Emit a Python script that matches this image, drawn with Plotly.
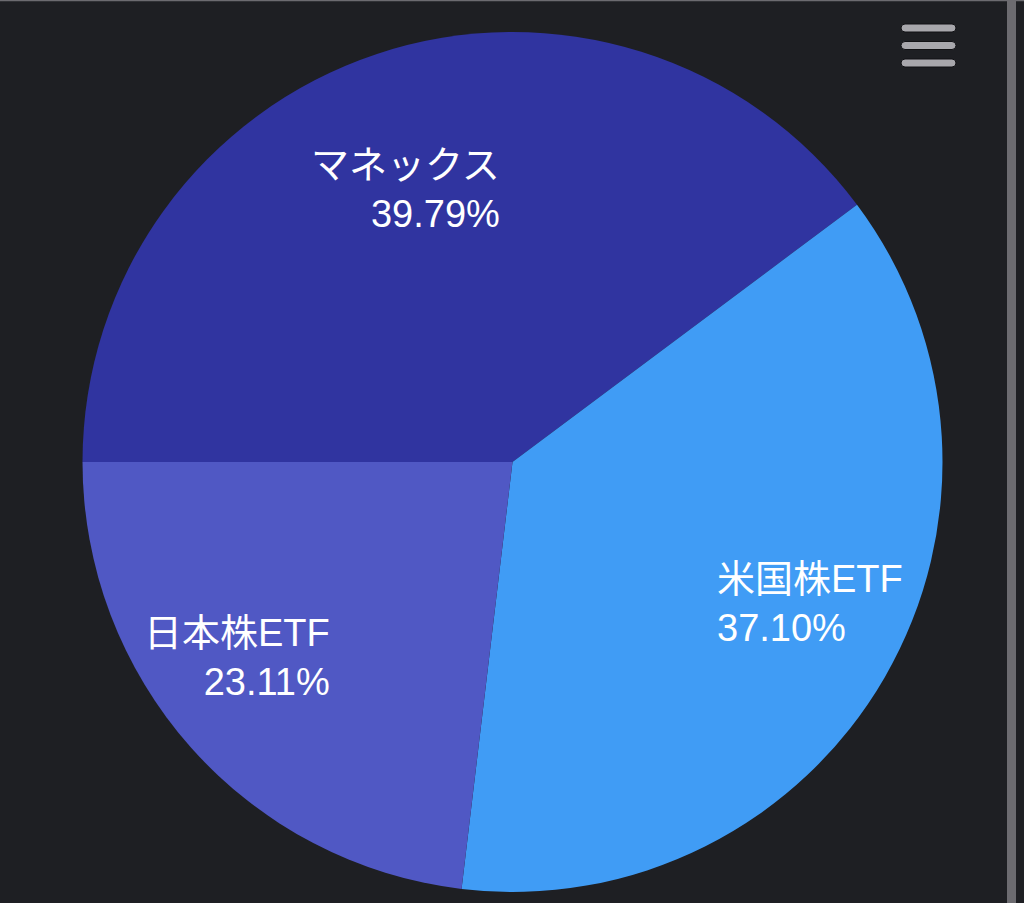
import math
import plotly.graph_objects as go

labels = ["マネックス", "米国株ETF", "日本株ETF"]
values = [39.79, 37.10, 23.11]
colors = ["#3034a0", "#409cf5", "#5058c4"]

# label styling (alignment, radial placement, angular nudge)
label_align = ["right", "left", "right"]
label_radius = [0.682, 0.767, 0.785]
label_nudge_deg = [-3.1, -4.6, 6.3]

W, H = 1024, 903
BG = "#1e1f23"

cx, cy, R = 512.5, 462, 430
START_DEG = 270          # first slice starts at 9 o'clock, clockwise

def px(x):
    return x / W

def py(y):
    return 1 - y / H

fig = go.Figure()
fig.add_trace(go.Pie(
    labels=labels,
    values=values,
    sort=False,
    direction="clockwise",
    rotation=START_DEG,
    marker=dict(colors=colors, line=dict(width=0)),
    textinfo="none",
    hoverinfo="skip",
    showlegend=False,
    domain=dict(x=[px(cx - R), px(cx + R)], y=[py(cy + R), py(cy - R)]),
))

# data labels placed around each slice's mid-angle (computed from the values)
total = sum(values)
annotations = []
acc = 0.0
for lab, val, al, rf, nd in zip(labels, values, label_align, label_radius, label_nudge_deg):
    mid = START_DEG + 360.0 * (acc + val / 2) / total
    acc += val
    a = math.radians(mid + nd)
    lx = cx + rf * R * math.sin(a)
    ly = cy - rf * R * math.cos(a)
    annotations.append(dict(
        xref="paper", yref="paper", x=px(lx), y=py(ly),
        xanchor="center", yanchor="middle", align=al, showarrow=False,
        text=f"{lab}<br>{val / total * 100:.2f}%",
        font=dict(family="Liberation Sans, Noto Sans CJK JP", size=38, color="#ffffff"),
    ))

shapes = []

def rounded_bar(x0, x1, y0, y1):
    r = (y1 - y0) / 2
    ym = (y0 + y1) / 2
    path = (f"M {px(x0 + r)},{py(y0)} L {px(x1 - r)},{py(y0)} "
            f"Q {px(x1)},{py(y0)} {px(x1)},{py(ym)} "
            f"Q {px(x1)},{py(y1)} {px(x1 - r)},{py(y1)} "
            f"L {px(x0 + r)},{py(y1)} "
            f"Q {px(x0)},{py(y1)} {px(x0)},{py(ym)} "
            f"Q {px(x0)},{py(y0)} {px(x0 + r)},{py(y0)} Z")
    return dict(type="path", xref="paper", yref="paper", path=path,
                fillcolor="#a8a7ac", line=dict(color="#111114", width=1))

for y0 in (24, 41.5, 59):
    shapes.append(rounded_bar(901, 956, y0, y0 + 8))

# right border strip and top hairline
shapes.append(dict(type="rect", xref="paper", yref="paper",
                   x0=px(1007), x1=px(1016), y0=0, y1=1,
                   fillcolor="#6c6b70", line=dict(width=0), layer="above"))
shapes.append(dict(type="rect", xref="paper", yref="paper",
                   x0=0, x1=1, y0=py(1.2), y1=1,
                   fillcolor="#6c6b70", line=dict(width=0), layer="above"))

fig.update_layout(
    width=W, height=H,
    margin=dict(l=0, r=0, t=0, b=0),
    paper_bgcolor=BG,
    plot_bgcolor=BG,
    shapes=shapes,
    annotations=annotations,
)

fig.write_html(
    "out.html",
    config={"displayModeBar": False},
    post_script="document.body.style.margin='0';document.body.style.background='#1e1f23';document.body.style.overflow='hidden';",
)
